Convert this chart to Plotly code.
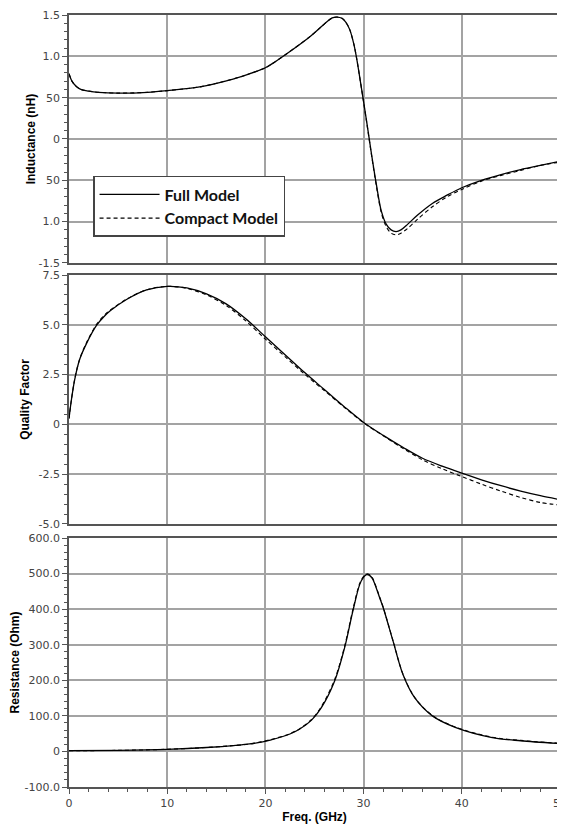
import plotly.graph_objects as go

# ---------------- data ----------------
freq_L = [0, 0.3, 0.7, 1.2, 2, 3, 5, 8, 10, 13.3, 16.7, 18.3, 20, 21, 22.1, 24.5,
          25.8, 26.8, 27.3, 27.8, 28.2, 28.6, 29.0, 29.3, 29.8, 30.3, 30.8, 31.3,
          31.8, 32.3, 32.8, 33.3, 33.8, 34.5, 35.5, 37, 38.5, 40, 42, 44, 46, 48, 50]
L_full = [0.79, 0.70, 0.64, 0.60, 0.58, 0.565, 0.555, 0.565, 0.585, 0.63, 0.725,
          0.785, 0.862, 0.935, 1.025, 1.235, 1.37, 1.465, 1.475, 1.46, 1.41, 1.32,
          1.15, 0.97, 0.60, 0.22, -0.18, -0.55, -0.87, -1.03, -1.10, -1.12, -1.10,
          -1.03, -0.92, -0.78, -0.68, -0.59, -0.50, -0.43, -0.37, -0.32, -0.27]
L_compact = [0.79, 0.70, 0.64, 0.60, 0.58, 0.565, 0.555, 0.565, 0.585, 0.63, 0.725,
             0.785, 0.862, 0.935, 1.025, 1.235, 1.37, 1.465, 1.475, 1.46, 1.41, 1.32,
             1.15, 0.97, 0.60, 0.21, -0.19, -0.57, -0.89, -1.06, -1.14, -1.16, -1.14,
             -1.08, -0.97, -0.82, -0.70, -0.61, -0.51, -0.44, -0.38, -0.32, -0.28]

freq_Q = [0, 0.07, 0.25, 0.58, 1.1, 1.8, 2.8, 3.5, 4.2, 5.9, 7.9, 10, 12, 14, 16,
          18, 20, 22, 24, 26, 28, 30, 32, 34, 36, 38, 40, 42, 44, 46, 48, 50]
Q_full = [0.3, 0.58, 1.25, 2.25, 3.28, 4.08, 4.97, 5.38, 5.70, 6.28, 6.75, 6.93,
          6.85, 6.55, 6.05, 5.3, 4.4, 3.5, 2.6, 1.75, 0.9, 0.1, -0.55, -1.15, -1.7,
          -2.1, -2.45, -2.78, -3.08, -3.35, -3.58, -3.78]
Q_compact = [0.3, 0.58, 1.25, 2.27, 3.30, 4.12, 5.02, 5.43, 5.74, 6.30, 6.76, 6.93,
             6.83, 6.5, 5.97, 5.2, 4.28, 3.4, 2.52, 1.7, 0.87, 0.08, -0.57, -1.2,
             -1.78, -2.23, -2.62, -3.0, -3.35, -3.67, -3.92, -4.05]

freq_R = [0, 5, 10, 14, 17, 18.4, 20.5, 22.5, 23.5, 24.7, 25.7, 27.05, 28.07, 28.9,
          29.6, 30.0, 30.3, 30.6, 30.9, 31.15, 31.6, 32.0, 33.0, 34.0, 35.2, 37.0,
          39.4, 43.1, 46, 50]
R_full = [2, 3, 6, 11, 17, 21, 32, 49, 63, 88, 123, 198, 292, 394, 469, 490, 497,
          495, 486, 470, 435, 404, 310, 217, 151, 100, 67, 39, 30, 22]
R_compact = [2, 3, 6, 11, 17, 21, 33, 50, 64, 90, 126, 202, 296, 398, 472, 492, 499,
             497, 488, 472, 437, 405, 311, 218, 152, 101, 68, 40, 31, 23]

x_ticks = [0, 10, 20, 30, 40, 50]
x_ticktext = ["0", "10", "20", "30", "40", "50"]
L_ticks = [-1.5, -1.0, -0.5, 0, 0.5, 1.0, 1.5]
L_ticktext = ["-1.5", "1.0", "50", "0", "50", "1.0", "1.5"]
Q_ticks = [-5, -2.5, 0, 2.5, 5, 7.5]
Q_ticktext = ["-5.0", "-2.5", "0", "2.5", "5.0", "7.5"]
R_ticks = [-100, 0, 100, 200, 300, 400, 500, 600]
R_ticktext = ["-100.0", "0", "100.0", "200.0", "300.0", "400.0", "500.0", "600.0"]

series_names = ["Full Model", "Compact Model"]

# ---------------- figure ----------------
fig = go.Figure()

full_line = dict(color="black", width=1.3, shape="spline", smoothing=0.9)
comp_line = dict(color="black", width=1.1, dash="4px,3px", shape="spline", smoothing=0.9)

fig.add_trace(go.Scatter(x=freq_L, y=L_full, mode="lines", line=full_line,
                         name=series_names[0], xaxis="x", yaxis="y"))
fig.add_trace(go.Scatter(x=freq_L, y=L_compact, mode="lines", line=comp_line,
                         name=series_names[1], xaxis="x", yaxis="y"))
fig.add_trace(go.Scatter(x=freq_Q, y=Q_full, mode="lines", line=full_line,
                         showlegend=False, xaxis="x2", yaxis="y2"))
fig.add_trace(go.Scatter(x=freq_Q, y=Q_compact, mode="lines", line=comp_line,
                         showlegend=False, xaxis="x2", yaxis="y2"))
fig.add_trace(go.Scatter(x=freq_R, y=R_full, mode="lines", line=full_line,
                         showlegend=False, xaxis="x3", yaxis="y3"))
fig.add_trace(go.Scatter(x=freq_R, y=R_compact, mode="lines", line=comp_line,
                         showlegend=False, xaxis="x3", yaxis="y3"))

grid_col = "#a3a3a3"
line_col = "#555555"
tick_font = dict(family="DejaVu Sans", size=11, color="#444444")
title_font = dict(family="Liberation Sans", size=12, color="#000000", weight="bold")


def xaxis_cfg(anchor, show_labels):
    return dict(
        domain=[0, 1], anchor=anchor, range=[0, 50], tickvals=x_ticks,
        ticktext=x_ticktext, showticklabels=show_labels, showgrid=True,
        gridcolor=grid_col, gridwidth=1.5, showline=True, linecolor=line_col,
        linewidth=1.5, mirror=True, ticks="outside" if show_labels else "",
        ticklen=5, tickcolor=line_col, tickfont=tick_font, zeroline=False,
        automargin=False, ticklabeloverflow="allow",
        minor=dict(dtick=2, ticklen=3, tickcolor=line_col,
                   ticks="outside" if show_labels else "", showgrid=False),
    )


def yaxis_cfg(anchor, dom, rng, tv, tt, minor_dtick, title, standoff):
    return dict(
        domain=dom, anchor=anchor, range=rng, tickvals=tv, ticktext=tt,
        showgrid=True, gridcolor=grid_col, gridwidth=1.5, showline=True,
        linecolor=line_col, linewidth=1.5, mirror=True, ticks="outside",
        ticklen=5, tickcolor=line_col, tickfont=tick_font, zeroline=False,
        automargin=False,
        minor=dict(dtick=minor_dtick, ticklen=3, tickcolor=line_col,
                   ticks="outside", showgrid=False),
        title=dict(text=title, font=title_font, standoff=standoff),
    )


# the page body adds an 8px offset; figure size/margins compensate for it
fig.update_layout(
    width=557, height=822,
    margin=dict(l=61, r=5, t=7, b=43, autoexpand=False),
    paper_bgcolor="white", plot_bgcolor="white",
    xaxis=xaxis_cfg("y", False),
    xaxis2=xaxis_cfg("y2", False),
    xaxis3=dict(xaxis_cfg("y3", True),
                title=dict(text="Freq. (GHz)", font=title_font, standoff=4)),
    yaxis=yaxis_cfg("x", [0.6788, 1.0], [-1.5, 1.5], L_ticks, L_ticktext, 0.1,
                    "Inductance (nH)", 0),
    yaxis2=yaxis_cfg("x2", [0.3407, 0.6632], [-5, 7.5], Q_ticks, Q_ticktext, 0.5,
                     "Quality Factor", 6),
    yaxis3=yaxis_cfg("x3", [0.0, 0.3225], [-100, 600], R_ticks, R_ticktext, 20,
                     "Resistance (Ohm)", 9),
    showlegend=True,
    legend=dict(
        x=0.049, y=0.7915, xanchor="left", yanchor="top",
        bgcolor="white", bordercolor="#444444", borderwidth=1.5,
        font=dict(family="Lato", size=16, color="#111111", weight="bold"),
        itemwidth=60, entrywidth=229, entrywidthmode="pixels",
        tracegroupgap=0,
    ),
)

fig.write_html("out.html")
